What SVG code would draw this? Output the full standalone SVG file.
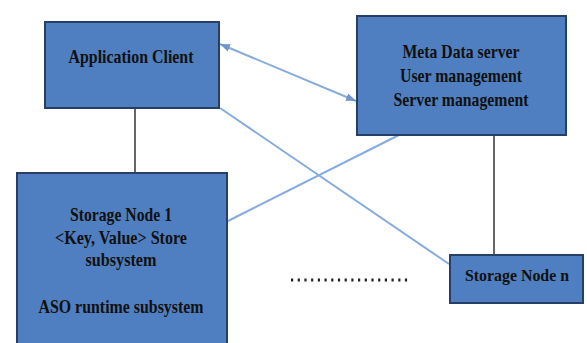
<svg xmlns="http://www.w3.org/2000/svg" width="587" height="343" viewBox="0 0 587 343">
<style>
.box{fill:#4f7fc0;stroke:#253f66;stroke-width:2}
.t{font-family:"Liberation Serif","Times New Roman",serif;font-weight:bold;font-size:19px;fill:#111;text-anchor:middle}
.blue{stroke:#86acdc;stroke-width:2;fill:none}
.dark{stroke:#333;stroke-width:1.5;fill:none}
</style>
<defs>
<marker id="ah" viewBox="0 0 10 10" refX="10" refY="5" markerWidth="5" markerHeight="5" orient="auto-start-reverse">
<path d="M0,1 L10,5 L0,9 z" fill="#6f97cc"/>
</marker>
</defs>
<rect width="587" height="343" fill="#fff"/>
<g id="connectors">
<line class="dark" x1="135" y1="108" x2="135" y2="173"/>
<line class="dark" x1="494" y1="135" x2="494" y2="255"/>
<line class="blue" x1="220" y1="44" x2="356" y2="101" marker-start="url(#ah)" marker-end="url(#ah)"/>
<line class="blue" x1="220" y1="108" x2="449" y2="264"/>
<line class="blue" x1="228" y1="221" x2="399" y2="135"/>
<line x1="291" y1="280" x2="411" y2="280" stroke="#222" stroke-width="3" stroke-dasharray="2.2 4.5"/>
</g>
<g id="app-client">
<rect class="box" x="45" y="22" width="174" height="86"/>
<text class="t" x="131" y="63" textLength="125" lengthAdjust="spacingAndGlyphs">Application Client</text>
</g>
<g id="meta-data-server">
<rect class="box" x="357" y="16" width="209" height="119"/>
<text class="t" x="461" y="58" textLength="117" lengthAdjust="spacingAndGlyphs">Meta Data server</text>
<text class="t" x="461" y="82" textLength="122" lengthAdjust="spacingAndGlyphs">User management</text>
<text class="t" x="461" y="106" textLength="135" lengthAdjust="spacingAndGlyphs">Server management</text>
</g>
<g id="storage-node-1">
<rect class="box" x="17" y="173" width="210" height="180"/>
<text class="t" x="121" y="221" textLength="102" lengthAdjust="spacingAndGlyphs">Storage Node 1</text>
<text class="t" x="121" y="244" textLength="132" lengthAdjust="spacingAndGlyphs">&lt;Key, Value&gt; Store</text>
<text class="t" x="121" y="266" textLength="71" lengthAdjust="spacingAndGlyphs">subsystem</text>
<text class="t" x="121" y="313" textLength="165" lengthAdjust="spacingAndGlyphs">ASO runtime subsystem</text>
</g>
<g id="storage-node-n">
<rect class="box" x="450" y="255" width="133" height="48"/>
<text class="t" x="517" y="281" style="font-size:17px" textLength="104" lengthAdjust="spacingAndGlyphs">Storage Node n</text>
</g>
</svg>
